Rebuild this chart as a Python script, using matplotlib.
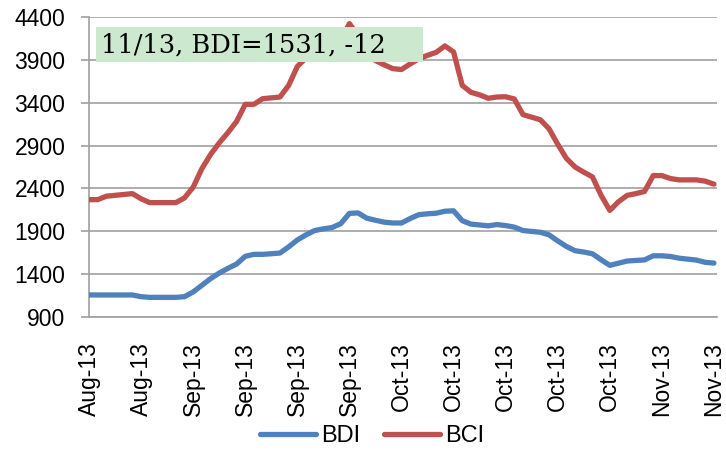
import matplotlib
matplotlib.use('Agg')
import matplotlib.pyplot as plt
from matplotlib.patches import Rectangle

# values (daily points, Aug to mid Nov 2013)
bdi = [1160, 1160, 1160, 1160, 1160, 1160, 1140, 1132, 1132, 1132,
       1132, 1140, 1195, 1272, 1350, 1415, 1470, 1520, 1610, 1633,
       1633, 1640, 1648, 1720, 1800, 1860, 1910, 1930, 1945, 1990,
       2110, 2115, 2054, 2030, 2008, 1998, 1998, 2050, 2095, 2105,
       2112, 2135, 2140, 2025, 1985, 1975, 1965, 1980, 1968, 1950,
       1910, 1900, 1890, 1860, 1790, 1725, 1675, 1660, 1640, 1570,
       1505, 1530, 1555, 1562, 1568, 1616, 1616, 1608, 1588, 1577,
       1566, 1540, 1531]
bci = [2270, 2270, 2310, 2320, 2330, 2340, 2280, 2235, 2235, 2235,
       2235, 2290, 2415, 2630, 2795, 2930, 3050, 3180, 3380, 3380,
       3445, 3455, 3465, 3600, 3820, 3920, 3970, 4010, 4050, 4120,
       4320, 4180, 3970, 3890, 3840, 3795, 3785, 3850, 3910, 3950,
       3985, 4060, 3990, 3600, 3520, 3490, 3450, 3465, 3468, 3442,
       3260, 3230, 3200, 3095, 2915, 2750, 2650, 2590, 2535, 2320,
       2145, 2245, 2320, 2340, 2365, 2550, 2550, 2515, 2500, 2500,
       2500, 2485, 2450]
tick_labels = ['Aug-13', 'Aug-13', 'Sep-13', 'Sep-13', 'Sep-13', 'Sep-13',
               'Oct-13', 'Oct-13', 'Oct-13', 'Oct-13', 'Oct-13',
               'Nov-13', 'Nov-13']
y_ticks = [900, 1400, 1900, 2400, 2900, 3400, 3900, 4400]
note = '11/13, BDI=1531, -12'

blue = '#4F81BD'
red = '#C0504D'
grid_color = '#A0A0A0'
sans = ['Liberation Sans', 'DejaVu Sans']

fig = plt.figure(figsize=(7.26, 4.5), dpi=100)
ax = fig.add_axes([89 / 726, (450 - 317.3) / 450, 628 / 726, 300.6 / 450])

x = list(range(len(bdi)))
ax.plot(x, bdi, color=blue, lw=3.8, solid_capstyle='round', solid_joinstyle='round', label='BDI', zorder=3)
ax.plot(x, bci, color=red, lw=3.8, solid_capstyle='round', solid_joinstyle='round', label='BCI', zorder=3)

ax.set_xlim(0, len(bdi) - 1 + 0.35)
ax.set_ylim(900, 4400)
ax.set_yticks(y_ticks)
ax.set_yticklabels([str(v) for v in y_ticks], family=sans, fontsize=16.5)
step = (len(bdi) - 1) // (len(tick_labels) - 1)
ax.set_xticks(x[::step])
ax.set_xticklabels(tick_labels, rotation=90, family=sans, fontsize=16.5)

ax.grid(axis='y', color=grid_color, lw=1.2, zorder=1)
ax.grid(axis='x', visible=False)
for side in ['top', 'right']:
    ax.spines[side].set_visible(False)
for side in ['left', 'bottom']:
    ax.spines[side].set_color(grid_color)
    ax.spines[side].set_linewidth(1.2)
ax.tick_params(axis='y', length=6, color=grid_color, width=1.2, pad=11)
ax.tick_params(axis='x', length=0, pad=18)

# green note box in the top left of the plot
fig.patches.append(Rectangle((96 / 726, (450 - 62) / 450), 327 / 726, 35 / 450,
                             transform=fig.transFigure, facecolor='#CCE8CF',
                             edgecolor='none', zorder=5))
fig.text(101 / 726, (450 - 45) / 450, note, family=['DejaVu Serif'], fontsize=18.5,
         va='center', ha='left', zorder=6)

fig.legend(loc='center', bbox_to_anchor=(372 / 726, 13.5 / 450), ncol=2, frameon=False,
           prop={'family': sans, 'size': 17}, handlelength=2.4, handletextpad=0.2,
           columnspacing=1.0)

fig.savefig('out.png', dpi=100)
